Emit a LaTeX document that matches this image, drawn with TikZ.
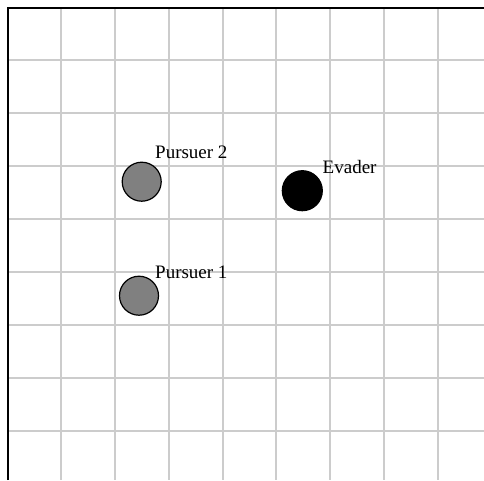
\documentclass[tikz,border=0pt]{standalone}
\usepackage{fontspec}
\setmainfont{Liberation Serif}
\begin{document}
\begin{tikzpicture}[x=1pt,y=-1pt,
  gridline/.style={draw=black!20,line width=2pt},
  axisline/.style={draw=black,line width=2pt},
  pursuer/.style={circle,draw=black,line width=1.2pt,fill=black!50,minimum size=39pt,inner sep=0pt},
  evader/.style={circle,draw=black,line width=1.2pt,fill=black,minimum size=40pt,inner sep=0pt},
  lbl/.style={anchor=base west,inner sep=0pt,font=\fontsize{19}{22}\selectfont}]
\useasboundingbox (0,0) rectangle (484,480);
\fill[white] (0,0) rectangle (484,480);
\foreach \k in {1,...,8} {
  \draw[gridline] ({7.5+53.75*\k},7.5) -- ({7.5+53.75*\k},480);
  \draw[gridline] (7.5,{7.5+52.9*\k}) -- (484,{7.5+52.9*\k});
}
\draw[axisline] (7.5,480) -- (7.5,7.5) -- (484,7.5);
\node[pursuer] (p2) at (141.7,181.7) {};
\node[pursuer] (p1) at (139,295.7) {};
\node[evader] (ev) at (302.3,190.7) {};
\node[lbl] (p2l) at (155,158.3) {Pursuer 2};
\node[lbl] (p1l) at (155,278) {Pursuer 1};
\node[lbl] (evl) at (322.5,173) {Evader};
\end{tikzpicture}
\end{document}
